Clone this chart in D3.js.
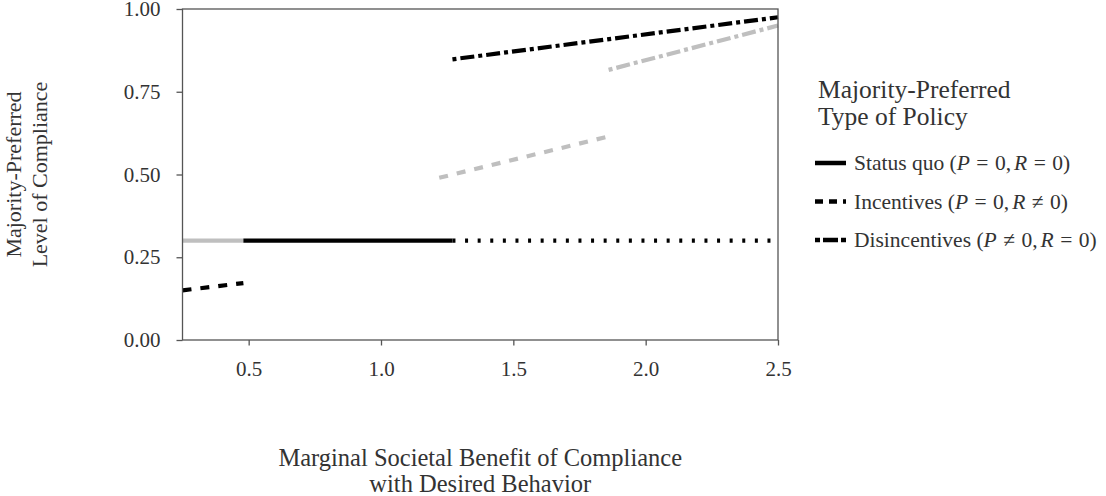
<!DOCTYPE html>
<html><head><meta charset="utf-8">
<script src="https://cdn.jsdelivr.net/npm/d3@7"></script>
<style>
html,body{margin:0;padding:0;background:#fff;}
svg text{font-family:"Liberation Serif","Times New Roman",serif;fill:#333;}
</style></head>
<body><svg id="chart" width="1106" height="496"></svg>
<script>
// ---- data ----
const xTicks = [0.5, 1.0, 1.5, 2.0, 2.5];
const yTicks = [0.00, 0.25, 0.50, 0.75, 1.00];
const segLinetype = ["solid", "solid", "dotted", "dashed", "dashed", "dotdash", "dotdash"];
const segShade    = ["gray", "black", "black", "black", "gray", "black", "gray"];
const segXStart   = [0.25, 0.48, 1.27, 0.25, 1.22, 1.27, 1.86];
const segXEnd     = [0.48, 1.27, 2.50, 0.48, 1.855, 2.50, 2.50];
const segYStart   = [0.30, 0.30, 0.30, 0.150, 0.490, 0.848, 0.816];
const segYEnd     = [0.30, 0.30, 0.30, 0.172, 0.614, 0.975, 0.950];
const legendTitle = ["Majority-Preferred", "Type of Policy"];
const legendTypes = ["solid", "dashed", "dotdash"];
const legendNames = ["Status quo", "Incentives", "Disincentives"];
const legendP     = ["=", "=", "≠"];
const legendR     = ["=", "≠", "="];
const yTitle = ["Majority-Preferred", "Level of Compliance"];
const xTitle = ["Marginal Societal Benefit of Compliance", "with Desired Behavior"];

// ---- styles ----
const dashes = {solid: null, dashed: "9 9", dotted: "3 9.6", dotdash: "4 4 14 4"};
const keyDashes = {solid: null, dashed: "8 6", dotdash: "5 3 15 3"};
const shades = {black: "#000000", gray: "#bfbfbf"};
const axisColor = "#555";

const svg = d3.select("#chart");
const L = 182.5, R = 778, T = 9, B = 340;
const x = d3.scaleLinear().domain([0.25, 2.5]).range([L, R]);
const y = d3.scaleLinear().domain([0, 1]).range([B, T]);

// segments
const segs = segXStart.map((d, i) => i);
svg.append("g").selectAll("line").data(segs).join("line")
  .attr("x1", i => x(segXStart[i])).attr("x2", i => x(segXEnd[i]))
  .attr("y1", i => y(segYStart[i])).attr("y2", i => y(segYEnd[i]))
  .attr("stroke", i => shades[segShade[i]])
  .attr("stroke-width", 4.2)
  .attr("stroke-linecap", "butt")
  .attr("stroke-dasharray", i => dashes[segLinetype[i]]);

// frame
svg.append("rect").attr("x", L).attr("y", T).attr("width", R - L).attr("height", B - T)
  .attr("fill", "none").attr("stroke", axisColor).attr("stroke-width", 1.3);

// axes
const xAxis = svg.append("g").attr("transform", `translate(0,${B})`)
  .call(d3.axisBottom(x).tickValues(xTicks).tickFormat(d3.format(".1f")).tickSize(5.5).tickPadding(16));
const yAxis = svg.append("g").attr("transform", `translate(${L},0)`)
  .call(d3.axisLeft(y).tickValues(yTicks).tickFormat(d3.format(".2f")).tickSize(6).tickPadding(16));
[xAxis, yAxis].forEach(a => {
  a.select(".domain").remove();
  a.selectAll(".tick line").attr("stroke", axisColor).attr("stroke-width", 1.3);
  a.selectAll(".tick text").attr("font-size", 21).attr("fill", "#4d4d4d")
    .attr("font-family", "Liberation Serif");
});

// axis titles
const xt = svg.append("g").attr("text-anchor", "middle");
xTitle.forEach((t, i) => {
  xt.append("text").attr("x", (L + R) / 2).attr("y", 466 + i * 25.5)
    .attr("font-size", 24.5).attr("fill", "#000").text(t);
});

const yt = svg.append("g").attr("text-anchor", "middle");
yTitle.forEach((t, i) => {
  const cx = 21 + i * 25.5, cy = (T + B) / 2;
  yt.append("text").attr("transform", `translate(${cx},${cy}) rotate(-90)`)
    .attr("font-size", 22).attr("fill", "#000").text(t);
});

// legend
const lg = svg.append("g");
legendTitle.forEach((t, i) => {
  lg.append("text").attr("x", 818).attr("y", 98 + i * 26.5)
    .attr("font-size", 25.5).attr("fill", "#000").text(t);
});

const efs = 21.5;
legendNames.forEach((n, i) => {
  const cy = 163 + i * 38.5;
  lg.append("line").attr("x1", 815).attr("x2", 846).attr("y1", cy).attr("y2", cy)
    .attr("stroke", "#000").attr("stroke-width", 4.5)
    .attr("stroke-dasharray", keyDashes[legendTypes[i]]);
  const t = lg.append("text").attr("x", 854).attr("y", cy + 7).attr("font-size", efs).attr("fill", "#000");
  const thick = efs * 0.3, thin = efs * 0.14;
  t.append("tspan").text(n + " (");
  t.append("tspan").attr("font-style", "italic").text("P");
  t.append("tspan").attr("dx", thick).text(legendP[i]);
  t.append("tspan").attr("dx", thick).text("0,");
  t.append("tspan").attr("dx", thin).attr("font-style", "italic").text("R");
  t.append("tspan").attr("dx", thick).text(legendR[i]);
  t.append("tspan").attr("dx", thick).text("0)");
});
</script></body></html>
